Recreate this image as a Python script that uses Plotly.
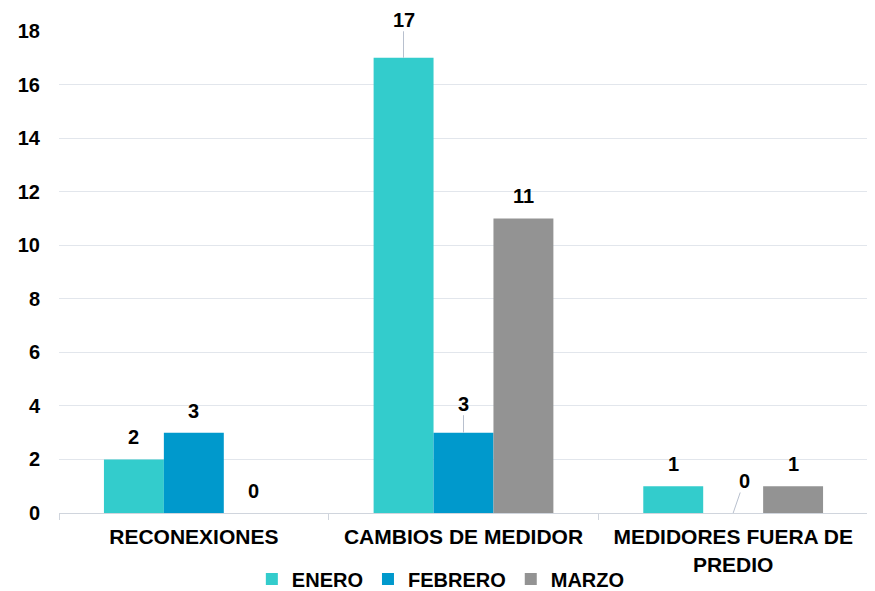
import plotly.graph_objects as go

categories = ["RECONEXIONES", "CAMBIOS DE MEDIDOR", "MEDIDORES FUERA DE<br>PREDIO"]
series_names = ["ENERO", "FEBRERO", "MARZO"]
enero = [2, 17, 1]
febrero = [3, 3, 0]
marzo = [0, 11, 1]
colors = ["#33CCCC", "#0099CC", "#939393"]

values = [enero, febrero, marzo]
FONT = "Liberation Sans, Arial, sans-serif"

fig = go.Figure()
for name, vals, col in zip(series_names, values, colors):
    fig.add_trace(go.Bar(name=f"<b>{name}</b>", x=categories, y=vals,
                         marker=dict(color=col, line=dict(width=0)),
                         hoverinfo="x+y"))

# label placement: (series index, category index) -> (ax, ay) for leader lines
leaders = {(0, 1): (0, -38), (1, 1): (0, -29), (1, 2): (11, -32)}
bargap = 1/3
bar_px = 60
for j, vals in enumerate(values):
    for i, v in enumerate(vals):
        xs = (j - 1) * bar_px
        if (j, i) in leaders:
            ax, ay = leaders[(j, i)]
            fig.add_annotation(x=categories[i], y=v, text=f"<b>{v}</b>", xshift=xs,
                               showarrow=True, arrowhead=0, arrowwidth=1, arrowcolor="#B8C0CE",
                               ax=ax, ay=ay, borderpad=0,
                               font=dict(size=20, color="#000", family=FONT))
        else:
            fig.add_annotation(x=categories[i], y=v, text=f"<b>{v}</b>", xshift=xs, yshift=22,
                               showarrow=False, yanchor="middle",
                               font=dict(size=20, color="#000", family=FONT))

fig.update_layout(
    width=867, height=583,
    margin=dict(l=51, r=7, t=23, b=78, autoexpand=False),
    barmode="group", bargap=bargap, bargroupgap=0,
    plot_bgcolor="white", paper_bgcolor="white",
    font=dict(family=FONT, color="#000"),
    legend=dict(orientation="h", x=0.472, xanchor="center", y=-0.137, yanchor="middle",
                font=dict(size=20, family=FONT), itemwidth=30, traceorder="normal",
                tracegroupgap=0),
    showlegend=True,
)
fig.update_xaxes(type="category", tickson="boundaries", ticks="outside", ticklen=6, tickcolor="#D0D5DD",
                 showline=True, linecolor="#D0D5DD", linewidth=1, showgrid=False, automargin=False,
                 ticklabelstandoff=5,
                 tickfont=dict(size=21, family=FONT), tickprefix="<b>", ticksuffix="</b>")
fig.update_yaxes(range=[0, 18], dtick=2, showgrid=True, gridcolor="#E2E6EC", gridwidth=1,
                 zeroline=False, showline=False, ticks="", ticklabelstandoff=18, automargin=False,
                 tickfont=dict(size=20, family=FONT), tickprefix="<b>", ticksuffix="</b>")

fig.write_html("out.html")
